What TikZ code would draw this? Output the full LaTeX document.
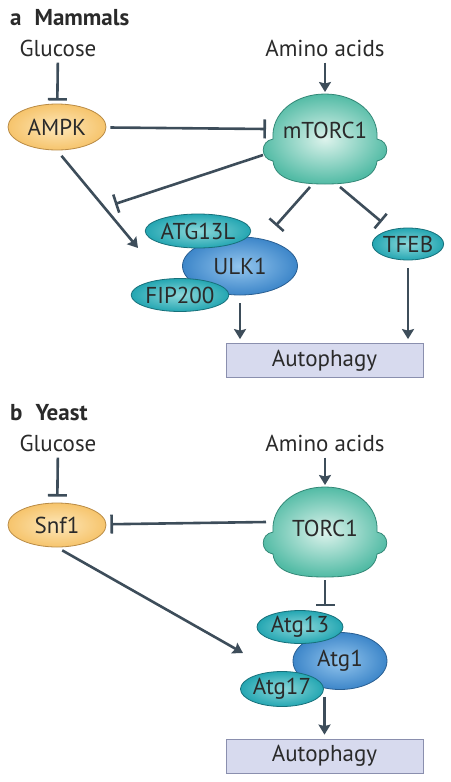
\documentclass[tikz,border=0pt]{standalone}
\usepackage{fontspec}
\setmainfont{PT Sans}
\usepackage{xcolor}
\usepackage{tikz}
\usetikzlibrary{shapes.geometric,arrows.meta}

\definecolor{linec}{HTML}{3D4D5A}
\definecolor{txtc}{HTML}{2A2A2A}
\definecolor{ampkin}{HTML}{FDE7B9}
\definecolor{ampkout}{HTML}{F6C46C}
\definecolor{ampkedge}{HTML}{B98B45}
\definecolor{tealin}{HTML}{8CD8DA}
\definecolor{tealout}{HTML}{24A6B2}
\definecolor{tealedge}{HTML}{17707A}
\definecolor{bluein}{HTML}{94C6EE}
\definecolor{blueout}{HTML}{3D86C9}
\definecolor{blueedge}{HTML}{2A5F92}
\definecolor{cloudin}{HTML}{DDF3EC}
\definecolor{cloudout}{HTML}{52BBA5}
\definecolor{cloudedge}{HTML}{338877}
\definecolor{boxfill}{HTML}{D7DAEE}
\definecolor{boxedge}{HTML}{8A8FAE}

\tikzset{
  lbl/.style={text=txtc, inner sep=0pt},
  kinase/.style={ellipse, draw=ampkedge, line width=0.8pt, inner color=ampkin, outer color=ampkout, text=txtc, inner sep=0pt},
  subunit/.style={ellipse, draw=tealedge, line width=0.8pt, inner color=tealin, outer color=tealout, text=txtc, inner sep=0pt},
  core/.style={ellipse, draw=blueedge, line width=0.8pt, inner color=bluein, outer color=blueout, text=txtc, inner sep=0pt},
  procbox/.style={rectangle, draw=boxedge, line width=0.8pt, fill=boxfill, text=txtc, minimum width=197pt, minimum height=34pt},
  cloudfill/.style={draw=cloudedge, line width=0.8pt, inner color=cloudin, outer color=cloudout},
  act/.style={draw=linec, line width=2.6pt, -{Stealth[length=10pt,width=12pt,inset=1.5pt]}},
  inh/.style={draw=linec, line width=2.6pt, -{Bar[width=19pt]}},
  torcloud/.pic={
    \path[cloudfill] (-52,0) .. controls (-54,-26) and (-30,-45) .. (0,-45)
      .. controls (30,-45) and (54,-26) .. (52,0)
      .. controls (65,2) and (65,20) .. (52,22)
      .. controls (50,42) and (24,45) .. (0,45)
      .. controls (-24,45) and (-50,42) .. (-52,22)
      .. controls (-65,20) and (-65,2) .. (-52,0) -- cycle;
    \coordinate (-n) at (0,-45);
    \coordinate (-w) at (-59,-10);
    \coordinate (-sw) at (-62,16);
    \coordinate (-s1) at (-15,48);
    \coordinate (-s2) at (15,48);
    \coordinate (-s) at (0,48);
  }
}

\begin{document}
\begin{tikzpicture}[x=1pt, y=-1pt, font=\fontsize{23}{26}\selectfont]
    \useasboundingbox (0,0) rectangle (450,782);

    \node[lbl, anchor=base west] (ttla) at (10,25) {\textbf{a}\hspace{13pt}\textbf{Mammals}};
    \node[lbl] (glc1) at (58,48) {Glucose};
    \node[lbl] (aa1) at (325,48) {Amino acids};
    \node[kinase, minimum width=98pt, minimum height=46pt] (ampk) at (57,127) {AMPK};
    \pic (mt) at (325,139) {torcloud};
    \node[lbl] (mtorc) at (325,130) {mTORC1};
    \node[core, minimum width=115pt, minimum height=58pt] (ulk) at (240,266) {ULK1};
    \node[subunit, minimum width=97pt, minimum height=34pt] (atg13l) at (198,231) {ATG13L};
    \node[subunit, minimum width=82pt, minimum height=33pt] (fip) at (180,295) {FIP200};
    \node[subunit, minimum width=64pt, minimum height=32pt] (tfeb) at (408,244) {TFEB};
    \node[procbox] (auto1) at (324.5,360.5) {Autophagy};
    \coordinate (ulkblk) at (115,204);
    \coordinate (ulkin) at (138,248);

    \draw[inh, shorten <=6pt, shorten >=3pt] (glc1) -- (ampk);
    \draw[act, shorten <=6pt, shorten >=2pt] (aa1) -- (mt-n);
    \draw[inh, shorten <=4pt] (ampk) -- (mt-w);
    \draw[inh] (mt-sw) -- (ulkblk);
    \draw[act, shorten <=7pt] (ampk.south) -- (ulkin);
    \draw[inh, shorten >=18pt] (mt-s1) -- (ulk);
    \draw[inh, shorten >=12pt] (mt-s2) -- (tfeb);
    \draw[act, shorten <=8pt, shorten >=4pt] (ulk.south) -- (ulk.south |- auto1.north);
    \draw[act, shorten <=8pt, shorten >=4pt] (tfeb.south) -- (tfeb.south |- auto1.north);

    \node[lbl, anchor=base west] (ttlb) at (10,420) {\textbf{b}\hspace{13pt}\textbf{Yeast}};
    \node[lbl] (glc2) at (58,443) {Glucose};
    \node[lbl] (aa2) at (325,443) {Amino acids};
    \node[kinase, minimum width=98pt, minimum height=44pt] (snf1) at (57,525) {Snf1};
    \pic (tc) at (325,532) {torcloud};
    \node[lbl] (torc) at (325,528) {TORC1};
    \node[core, minimum width=94pt, minimum height=57pt] (atg1) at (340,661) {Atg1};
    \node[subunit, minimum width=86pt, minimum height=33pt] (atg13) at (300,627) {Atg13};
    \node[subunit, minimum width=83pt, minimum height=35pt] (atg17) at (282,689) {Atg17};
    \node[procbox] (auto2) at (324.5,756) {Autophagy};
    \coordinate (atg1in) at (243,653);

    \draw[inh, shorten <=6pt, shorten >=6pt] (glc2) -- (snf1);
    \draw[act, shorten <=6pt, shorten >=2pt] (aa2) -- (tc-n);
    \draw[inh, shorten >=4pt] (tc-w) -- (snf1);
    \draw[act, shorten <=6pt] (snf1.south) -- (atg1in);
    \draw[inh, shorten >=4pt] (tc-s) -- (tc-s |- atg13.north);
    \draw[act, shorten <=7pt, shorten >=4pt] (auto2.north |- atg1.south) -- (auto2.north);
\end{tikzpicture}
\end{document}
